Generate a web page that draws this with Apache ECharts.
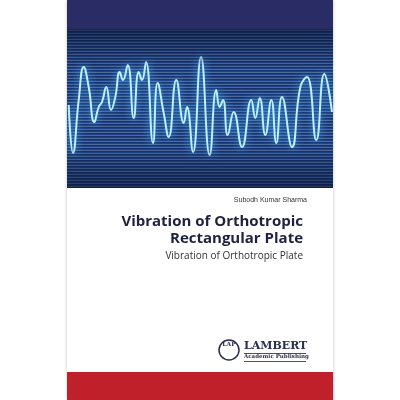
<!DOCTYPE html><html><head><meta charset="utf-8"><script src="https://cdn.jsdelivr.net/npm/echarts@6/dist/echarts.min.js"></script>
<style>html,body{margin:0;background:#fff}#c{width:400px;height:400px}</style></head><body><div id="c"></div><script>
// waveform samples (x along cover, y from top of blue panel, in px)
const waveX=[1.7,6,11.7,16.7,21.7,27.3,31.7,35,39.3,44,48.3,52.7,56,60.7,66.7,71.7,75,79,86,90.7,96.7,101.7,109.3,116.7,120,126,134,142.7,149.3,152.7,156,160.7,166.7,175,184.3,188.3,192.7,198.3,204.3,209.3,215,225,233.3,240,249.3,257.3,265];
const waveY=[76,124,71,38,58,93,78,73,58,81,68,43,51,36,89,43,51,33,114,54,84,108,51,94,78,123,28,126,61,78,71,106,83,118,71,89,69,106,71,114,68,118,58,48,111,45,83];
const data=waveX.map((x,i)=>[x,waveY[i]]);
const c=echarts.init(document.getElementById('c'));
c.setOption({backgroundColor:'#fff',animation:false,
graphic:[
{type:'rect',shape:{x:67,y:0,width:266,height:400},style:{fill:'#fff',shadowBlur:3,shadowColor:'rgba(0,0,0,0.25)'},z:-10},
{type:'rect',shape:{x:67,y:0,width:266,height:29},style:{fill:'#2a2c66'},z:-5},
{type:'rect',shape:{x:67,y:29,width:266,height:159},style:{fill:new echarts.graphic.LinearGradient(0,0,0,1,[{offset:0,color:'rgba(5,15,40,0.55)'},{offset:0.25,color:'rgba(5,15,40,0)'},{offset:0.75,color:'rgba(5,15,40,0)'},{offset:1,color:'rgba(5,15,40,0.55)'}])},z:50,silent:true},
{type:'rect',shape:{x:67,y:372,width:266,height:28},style:{fill:'#c0202a'}},
{type:'text',style:{text:'Subodh Kumar Sharma',x:307,y:200,align:'right',verticalAlign:'middle',font:'7px Liberation Sans',fill:'#333'}},
{type:'text',style:{text:'Vibration of Orthotropic',x:303,y:222,align:'right',verticalAlign:'middle',font:'bold 15px "Open Sans"',fill:'#1e2140'}},
{type:'text',style:{text:'Rectangular Plate',x:303,y:239,align:'right',verticalAlign:'middle',font:'bold 15px "Open Sans"',fill:'#1e2140'}},
{type:'text',style:{text:'Vibration of Orthotropic Plate',x:303,y:256,align:'right',verticalAlign:'middle',font:'10px "Open Sans"',fill:'#333'}},
{type:'circle',shape:{cx:229,cy:350,r:10},style:{fill:'#fff',stroke:'#2a2c50',lineWidth:1.5}},
{type:'text',style:{text:'LAP',x:229,y:344,align:'center',verticalAlign:'middle',font:'bold 6px DejaVu Serif',fill:'#2a2c50'}},
{type:'text',style:{text:'LAMBERT',x:244,y:346,align:'left',verticalAlign:'middle',font:'bold 11px DejaVu Serif',fill:'#2a2c50'}},
{type:'rect',shape:{x:244,y:353,width:62,height:1},style:{fill:'#c0202a'}},
{type:'text',style:{text:'Academic Publishing',x:244,y:357,align:'left',verticalAlign:'middle',font:'bold 5.5px DejaVu Serif',fill:'#2a2c50'}},
{type:'rect',shape:{x:244,y:361,width:62,height:1},style:{fill:'#c0202a'}}
],
grid:{left:67,top:29,width:266,height:159},
xAxis:{type:'value',min:0,max:266,show:false},
yAxis:{type:'value',min:0,max:159,inverse:true,interval:1.5,axisLabel:{show:false},axisLine:{show:false},axisTick:{show:false},splitLine:{show:false},
 splitArea:{show:true,areaStyle:{color:['#1d4288','#14326e']}}},
series:[{type:'line',data,smooth:0.5,symbol:'none',clip:true,
 lineStyle:{color:'#bfefff',width:2,shadowBlur:8,shadowColor:'#3fb4ff'}}]
});
</script></body></html>
